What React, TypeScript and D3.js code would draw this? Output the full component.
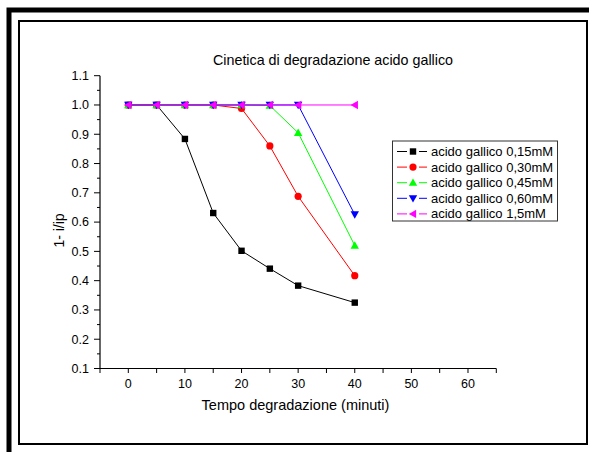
import React from "react";
import * as d3 from "d3";

const times = [0, 5, 10, 15, 20, 25, 30, 40];
const series015 = [1.0, 1.0, 0.884, 0.631, 0.502, 0.441, 0.383, 0.325];
const series030 = [1.0, 1.0, 1.0, 1.0, 0.988, 0.86, 0.688, 0.417];
const series045 = [1.0, 1.0, 1.0, 1.0, 1.0, 0.998, 0.905, 0.52];
const series060 = [1.0, 1.0, 1.0, 1.0, 1.0, 1.0, 1.0, 0.626];
const series150 = [1.0, 1.0, 1.0, 1.0, 1.0, 1.0, 1.0, 1.0];
const seriesNames = [
  "acido gallico 0,15mM",
  "acido gallico 0,30mM",
  "acido gallico 0,45mM",
  "acido gallico 0,60mM",
  "acido gallico 1,5mM",
];
const seriesColors = ["#000000", "#ff0000", "#00ff00", "#0000ff", "#ff00ff"];
const seriesMarkers = ["square", "circle", "up", "down", "left"];
const xTicks = [0, 10, 20, 30, 40, 50, 60];
const xMinorTicks = [-5, 0, 5, 10, 15, 20, 25, 30, 35, 40, 45, 50, 55, 60, 65];
const yTicks = [0.1, 0.2, 0.3, 0.4, 0.5, 0.6, 0.7, 0.8, 0.9, 1.0, 1.1];
const yMinorTicks = [0.15, 0.25, 0.35, 0.45, 0.55, 0.65, 0.75, 0.85, 0.95, 1.05];
const title = "Cinetica di degradazione acido gallico";
const xLabel = "Tempo degradazione (minuti)";
const yLabel = "1- i/ip";

const FONT = "'Liberation Sans', Arial, Helvetica, sans-serif";

function Marker({ type, x, y, color }: { type: string; x: number; y: number; color: string }) {
  if (type === "square") return <rect x={x - 3.2} y={y - 3.2} width={6.4} height={6.4} fill={color} />;
  if (type === "circle") return <circle cx={x} cy={y} r={3.6} fill={color} />;
  const s = 4.2;
  let pts: [number, number][] = [];
  if (type === "up") pts = [[x, y - s], [x + s, y + s * 0.75], [x - s, y + s * 0.75]];
  if (type === "down") pts = [[x, y + s], [x + s, y - s * 0.75], [x - s, y - s * 0.75]];
  if (type === "left") pts = [[x - s, y], [x + s * 0.75, y - s], [x + s * 0.75, y + s]];
  return <polygon points={pts.map((p) => p.join(",")).join(" ")} fill={color} />;
}

export default function App() {
  const x = d3.scaleLinear().domain([-5, 65]).range([100, 496.3]);
  const y = d3.scaleLinear().domain([0.1, 1.1]).range([368.5, 75.7]);
  const allSeries = [series015, series030, series045, series060, series150];
  const line = d3
    .line<[number, number]>()
    .x((d) => x(d[0]))
    .y((d) => y(d[1]));
  const fmt = d3.format(".1f");

  return (
    <svg width={589} height={452} style={{ position: "absolute", left: 0, top: 0, background: "#fff" }}>
      <rect x={0} y={0} width={589} height={452} fill="#fff" />
      {/* outer thick frame */}
      <rect x={9} y={10} width={600} height={460} fill="none" stroke="#000" strokeWidth={5} />
      {/* inner frame */}
      <rect x={19} y={21} width={568} height={423} fill="none" stroke="#000" strokeWidth={2} />

      <text x={333} y={65} textAnchor="middle" fontFamily={FONT} fontSize={14.3} fill="#000">
        {title}
      </text>

      {/* axes */}
      <line x1={x(-5)} x2={x(-5)} y1={y(1.1)} y2={y(0.1)} stroke="#000" strokeWidth={1.2} />
      <line x1={x(-5)} x2={x(65)} y1={y(0.1)} y2={y(0.1)} stroke="#000" strokeWidth={1.2} />
      {yTicks.map((t) => (
        <g key={"yt" + t}>
          <line x1={x(-5) - 6} x2={x(-5)} y1={y(t)} y2={y(t)} stroke="#000" strokeWidth={1} />
          <text x={x(-5) - 11} y={y(t)} dy="0.35em" textAnchor="end" fontFamily={FONT} fontSize={12.5} fill="#000">
            {fmt(t)}
          </text>
        </g>
      ))}
      {yMinorTicks.map((t) => (
        <line key={"ym" + t} x1={x(-5) - 3} x2={x(-5)} y1={y(t)} y2={y(t)} stroke="#000" strokeWidth={1} />
      ))}
      {xMinorTicks.map((t) => (
        <line key={"xm" + t} x1={x(t)} x2={x(t)} y1={y(0.1)} y2={y(0.1) + 4.5} stroke="#000" strokeWidth={1} />
      ))}
      {xTicks.map((t) => (
        <text key={"xt" + t} x={x(t)} y={388} textAnchor="middle" fontFamily={FONT} fontSize={12.5} fill="#000">
          {t}
        </text>
      ))}
      <text x={295.5} y={410} textAnchor="middle" fontFamily={FONT} fontSize={14.5} fill="#000">
        {xLabel}
      </text>
      <text
        transform={`translate(64,${230.5}) rotate(-90)`}
        textAnchor="middle"
        fontFamily={FONT}
        fontSize={14}
        fill="#000"
      >
        {yLabel}
      </text>

      {/* series */}
      {allSeries.map((vals, i) => (
        <g key={"s" + i}>
          <path
            d={line(times.map((t, j) => [t, vals[j]] as [number, number])) || ""}
            fill="none"
            stroke={seriesColors[i]}
            strokeWidth={1}
          />
          {times.map((t, j) => (
            <Marker key={j} type={seriesMarkers[i]} x={x(t)} y={y(vals[j])} color={seriesColors[i]} />
          ))}
        </g>
      ))}

      {/* legend */}
      <rect x={392.5} y={141} width={165} height={80} fill="#fff" stroke="#333" strokeWidth={1} />
      {seriesNames.map((name, i) => {
        const ly = 151.5 + i * 15.6;
        return (
          <g key={"l" + i}>
            <line x1={397} x2={427} y1={ly} y2={ly} stroke={seriesColors[i]} strokeWidth={1} />
            <rect x={407} y={ly - 4} width={12} height={8} fill="#fff" />
            <Marker type={seriesMarkers[i]} x={413} y={ly} color={seriesColors[i]} />
            <text x={431} y={ly} dy="0.35em" fontFamily={FONT} fontSize={13} fill="#000">
              {name}
            </text>
          </g>
        );
      })}
    </svg>
  );
}
